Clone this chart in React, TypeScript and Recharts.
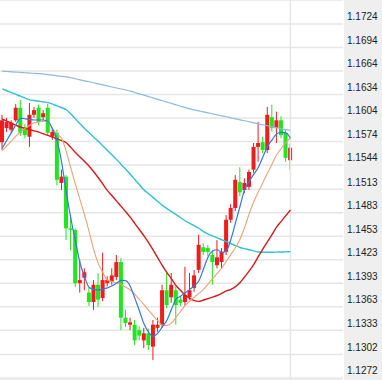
import { Bar, CartesianGrid, ComposedChart, Line, ReferenceLine, XAxis, YAxis } from "recharts";

// OHLC per candle
const candleOpen = [
  1.1573, 1.1591, 1.1589, 1.1601, 1.1617, 1.1592, 1.158, 1.1608, 1.1617, 1.1605,
  1.1617, 1.158, 1.1585, 1.1521, 1.1529, 1.1463, 1.1461, 1.1393, 1.14, 1.1381,
  1.1369, 1.1391, 1.1374, 1.1393, 1.1395, 1.1401, 1.142, 1.1349, 1.134, 1.134,
  1.1333, 1.132, 1.1329, 1.1312, 1.1336, 1.134, 1.1384, 1.1375, 1.1384, 1.1372,
  1.1369, 1.1375, 1.1387, 1.141, 1.1439, 1.1438, 1.1429, 1.1416, 1.142, 1.1433,
  1.1474, 1.1489, 1.1522, 1.1512, 1.1516, 1.1538, 1.1567, 1.1573, 1.1563, 1.1605,
  1.1591, 1.1601, 1.1585, 1.155,
];
const candleClose = [
  1.1601, 1.1599, 1.1598, 1.1617, 1.1585, 1.1582, 1.1608, 1.1614, 1.1599, 1.161,
  1.1585, 1.1586, 1.1525, 1.1529, 1.1463, 1.1461, 1.1393, 1.1397, 1.1407, 1.1369,
  1.1391, 1.1372, 1.1397, 1.1397, 1.1403, 1.142, 1.1349, 1.1342, 1.1343, 1.132,
  1.1326, 1.1329, 1.1314, 1.134, 1.134, 1.1384, 1.1365, 1.1391, 1.1365, 1.1368,
  1.1378, 1.1384, 1.1403, 1.1442, 1.1433, 1.1433, 1.142, 1.1426, 1.1433, 1.1474,
  1.1489, 1.1525, 1.1509, 1.1521, 1.1535, 1.1567, 1.1572, 1.1563, 1.1608, 1.1591,
  1.1601, 1.1582, 1.1553, 1.1566,
];
const candleHigh = [
  1.1608, 1.1604, 1.1601, 1.1622, 1.1627, 1.1596, 1.1623, 1.1618, 1.1621, 1.1614,
  1.1622, 1.159, 1.1589, 1.1538, 1.1531, 1.148, 1.1463, 1.1423, 1.1412, 1.1387,
  1.1397, 1.1406, 1.1432, 1.1402, 1.1412, 1.1429, 1.1425, 1.1359, 1.1349, 1.1346,
  1.1338, 1.1336, 1.1335, 1.1346, 1.1349, 1.1391, 1.1406, 1.1406, 1.1389, 1.1377,
  1.1414, 1.1406, 1.141, 1.1455, 1.1444, 1.1442, 1.1435, 1.1448, 1.1438, 1.148,
  1.1494, 1.1531, 1.1541, 1.1527, 1.1538, 1.1572, 1.1599, 1.158, 1.1618, 1.1621,
  1.1612, 1.1606, 1.1589, 1.1571,
];
const candleLow = [
  1.1563, 1.1586, 1.1585, 1.1599, 1.1581, 1.1578, 1.1567, 1.1604, 1.1595, 1.1601,
  1.1581, 1.1576, 1.1518, 1.1512, 1.1448, 1.1435, 1.1388, 1.1381, 1.1384, 1.1364,
  1.1359, 1.1363, 1.137, 1.1389, 1.1391, 1.1397, 1.1333, 1.1337, 1.1333, 1.1314,
  1.132, 1.131, 1.1308, 1.1295, 1.1331, 1.1336, 1.1361, 1.1368, 1.134, 1.1364,
  1.1364, 1.1372, 1.1382, 1.1406, 1.1429, 1.1428, 1.1391, 1.1412, 1.1412, 1.1429,
  1.147, 1.1485, 1.1504, 1.1508, 1.1512, 1.1534, 1.1548, 1.1559, 1.1559, 1.1587,
  1.1572, 1.1578, 1.1548, 1.1538,
];

// moving averages at each candle
const maFast = [
  1.15655, 1.15755, 1.15853, 1.15953, 1.16038, 1.16029, 1.1602, 1.16014, 1.16014, 1.16014,
  1.15993, 1.15898, 1.15741, 1.15466, 1.15088, 1.14756, 1.14465, 1.14188, 1.14012, 1.13875,
  1.13851, 1.13843, 1.13855, 1.13871, 1.13897, 1.1393, 1.13965, 1.13963, 1.13889, 1.13736,
  1.13575, 1.13408, 1.13303, 1.13252, 1.13292, 1.13372, 1.13458, 1.13598, 1.13725, 1.13765,
  1.13808, 1.13851, 1.13897, 1.13962, 1.14111, 1.14265, 1.1434, 1.14357, 1.14323, 1.14345,
  1.14492, 1.14704, 1.14916, 1.15128, 1.15232, 1.15323, 1.1541, 1.15545, 1.15677, 1.15761,
  1.15838, 1.15857, 1.15849, 1.15784,
];
const maMid = [
  1.15623, 1.15684, 1.15746, 1.15807, 1.15866, 1.15907, 1.15946, 1.15978, 1.15988, 1.15997,
  1.1599, 1.15899, 1.15836, 1.15776, 1.15608, 1.15398, 1.15193, 1.14994, 1.148, 1.14586,
  1.14357, 1.1418, 1.14065, 1.13967, 1.13952, 1.13933, 1.13911, 1.13878, 1.13843, 1.13787,
  1.13722, 1.13654, 1.13584, 1.13515, 1.13451, 1.13393, 1.13389, 1.13419, 1.13496, 1.13571,
  1.13648, 1.137, 1.13753, 1.13801, 1.1385, 1.13919, 1.13988, 1.14055, 1.14124, 1.14211,
  1.14298, 1.14385, 1.14494, 1.14645, 1.14818, 1.14973, 1.15096, 1.15217, 1.15337, 1.15452,
  1.1557, 1.1565, 1.15728, 1.15784,
];
const maSlow = [
  1.16027, 1.16, 1.15974, 1.15947, 1.15922, 1.15907, 1.15891, 1.15875, 1.15858, 1.15836,
  1.15817, 1.15794, 1.15773, 1.1575, 1.15724, 1.15661, 1.156, 1.15541, 1.15483, 1.15424,
  1.15353, 1.15276, 1.15195, 1.15112, 1.15046, 1.14978, 1.14911, 1.14842, 1.1477, 1.14691,
  1.14613, 1.14533, 1.14448, 1.14351, 1.14253, 1.14154, 1.14065, 1.13984, 1.13899, 1.13836,
  1.13777, 1.13736, 1.13707, 1.13698, 1.13716, 1.13734, 1.13753, 1.13773, 1.13801, 1.13831,
  1.13851, 1.13887, 1.13939, 1.14012, 1.14088, 1.14171, 1.14272, 1.14369, 1.1446, 1.14553,
  1.14649, 1.1472, 1.14793, 1.14865,
];
const maLong = [
  1.16411, 1.16387, 1.16364, 1.16341, 1.16318, 1.16293, 1.1627, 1.16262, 1.16253, 1.16244,
  1.16235, 1.16217, 1.16193, 1.1617, 1.16145, 1.16089, 1.16028, 1.15965, 1.15905, 1.1585,
  1.15795, 1.15741, 1.15683, 1.15624, 1.15567, 1.15508, 1.15446, 1.15384, 1.15321, 1.15254,
  1.15186, 1.15121, 1.15072, 1.15023, 1.14973, 1.14923, 1.14883, 1.14844, 1.14805, 1.14766,
  1.14727, 1.14694, 1.14663, 1.14632, 1.14589, 1.14558, 1.14533, 1.1451, 1.14485, 1.14462,
  1.14437, 1.14409, 1.14386, 1.14371, 1.14357, 1.14342, 1.14328, 1.14326, 1.14326, 1.14326,
  1.14327, 1.14328, 1.1433, 1.14331,
];
const maLongest = [
  1.16637, 1.16633, 1.16629, 1.16625, 1.16622, 1.16617, 1.16613, 1.16609, 1.16605, 1.166,
  1.16594, 1.16586, 1.16578, 1.16572, 1.16564, 1.16553, 1.1654, 1.16527, 1.16514, 1.16502,
  1.16489, 1.16475, 1.16462, 1.16449, 1.16435, 1.16422, 1.1641, 1.16397, 1.16383, 1.16365,
  1.16348, 1.16331, 1.16313, 1.16296, 1.16278, 1.1626, 1.16242, 1.16226, 1.16208, 1.1619,
  1.16172, 1.16156, 1.16143, 1.1613, 1.16117, 1.16105, 1.16092, 1.16079, 1.16067, 1.16055,
  1.16042, 1.16029, 1.16016, 1.16004, 1.15991, 1.15978, 1.15965, 1.15953, 1.1594, 1.15927,
  1.15914, 1.15902, 1.1589, 1.1588,
];

const priceLabels = [
  "1.1272", "1.1302", "1.1333", "1.1363", "1.1393", "1.1423", "1.1453", "1.1483",
  "1.1513", "1.1544", "1.1574", "1.1604", "1.1634", "1.1664", "1.1694", "1.1724",
];

const EMPTY_SLOTS = 11; // room on the right before the price axis
const Y_MIN = 1.12694;
const Y_MAX = 1.17546;
const UP = "#ee1c1c";
const DOWN = "#1fe61f";

const rows = Array.from({ length: candleOpen.length + EMPTY_SLOTS }, (_, i) =>
  i < candleOpen.length
    ? {
        slot: i,
        open: candleOpen[i],
        close: candleClose[i],
        high: candleHigh[i],
        low: candleLow[i],
        range: [candleLow[i], candleHigh[i]],
        ma1: maFast[i],
        ma2: maMid[i],
        ma3: maSlow[i],
        ma4: maLong[i],
        ma5: maLongest[i],
      }
    : { slot: i }
);

const maLines = [
  { key: "ma5", color: "#8db9e0", width: 1.2 },
  { key: "ma4", color: "#2ec3d3", width: 1.4 },
  { key: "ma3", color: "#d8191c", width: 1.4 },
  { key: "ma2", color: "#e8a47a", width: 1.1 },
  { key: "ma1", color: "#3478d8", width: 1.2 },
];

function Candle(props: any) {
  const { x, y, width, height, payload } = props;
  if (payload?.open == null || height == null) return null;
  const { open, close, high, low } = payload;
  const k = height / (high - low || 1e-9);
  const color = close >= open ? UP : DOWN;
  const top = y + (high - Math.max(open, close)) * k;
  const bodyH = Math.max(1, Math.abs(open - close) * k);
  const cx = x + width / 2;
  return (
    <g>
      <line x1={cx} x2={cx} y1={y} y2={y + height} stroke={color} strokeWidth={1} />
      <rect x={x} y={top} width={width} height={bodyH} fill={color} />
    </g>
  );
}

function PriceTick(props: any) {
  const { x, y, payload } = props;
  return (
    <text x={x} y={y - 3.5} textAnchor="start" fontSize={10} fill="#222" fontFamily="Arial, 'Liberation Sans', sans-serif">
      {payload.value.toFixed(4)}
    </text>
  );
}

export default function App() {
  return (
    <div style={{ width: 382, height: 380, background: "linear-gradient(to right, #fff 344px, #efefef 344px)" }}>
      <style>{`body{margin:0}`}</style>
      <ComposedChart width={382} height={380} data={rows} margin={{ top: 0, right: 0, bottom: 0, left: 0 }}>
        <CartesianGrid vertical={false} stroke="#e6e6e6" strokeWidth={1.5} />
        <XAxis dataKey="slot" hide />
        <YAxis
          orientation="right"
          width={39}
          domain={[Y_MIN, Y_MAX]}
          allowDataOverflow
          ticks={priceLabels.map(Number)}
          interval={0}
          axisLine={false}
          tickLine={false}
          tickSize={0}
          tickMargin={4}
          tick={<PriceTick />}
        />
        <ReferenceLine x={candleOpen.length - 1} stroke="#e6e6e6" strokeWidth={1.5} />
        <Bar dataKey="range" barSize={4} shape={<Candle />} isAnimationActive={false} />
        {maLines.map((m) => (
          <Line
            key={m.key}
            type="monotone"
            dataKey={m.key}
            stroke={m.color}
            strokeWidth={m.width}
            dot={false}
            activeDot={false}
            legendType="none"
            isAnimationActive={false}
          />
        ))}
      </ComposedChart>
    </div>
  );
}
